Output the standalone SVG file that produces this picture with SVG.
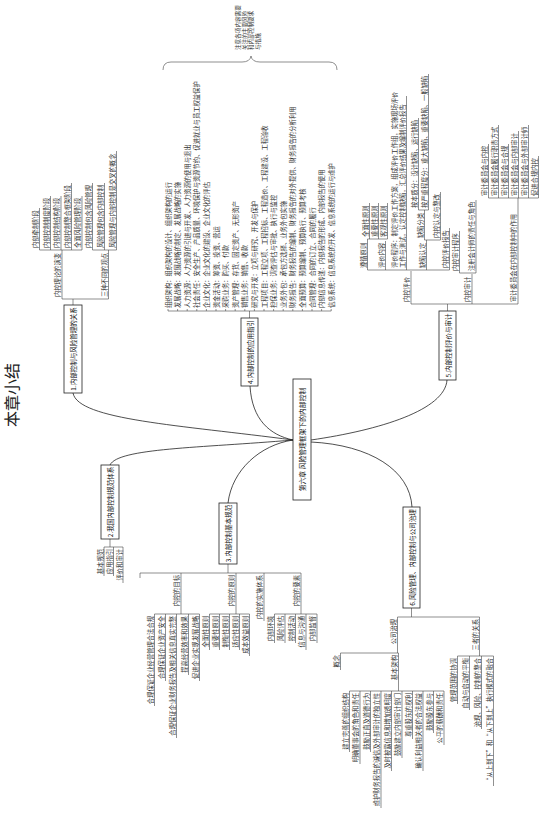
<svg xmlns="http://www.w3.org/2000/svg" width="543" height="819" viewBox="0 0 543 819">
<style>
.t{font-family:"Noto Sans CJK SC","Noto Sans",sans-serif;font-size:6.3px;fill:#333;dominant-baseline:central}
.s{text-anchor:start}.e{text-anchor:end}.m{text-anchor:middle}
.nb{font-size:6.5px;fill:#111}
.box{fill:#fff;stroke:#222;stroke-width:0.8}
.ln{stroke:#444;stroke-width:0.6;fill:none}
.cv{stroke:#222;stroke-width:0.8;fill:none}
</style>
<rect width="543" height="819" fill="#fff"/>
<text class="t m" style="font-size:16px;fill:#222" transform="translate(11,395) rotate(-90)">本章小结</text>

<g id="connectors">
<path class="cv" d="M73,393 C78,420 180,425 293,440 M110,465 C118,448 200,448 293,440 M228,503 C232,470 260,445 293,440 M250,386 C252,420 270,435 293,440 M447,380 C445,410 380,430 311,440 M412,507 C410,470 370,445 311,442"/>
<path class="ln" d="M73,305V299 M62,299H108.5 M62,299V250 M108.5,299V250 M39.5,250H82 M39.5,250V208 M50.5,250V196 M61,250V196 M71.5,250V183 M82,250V196 M92.5,250H116.5 M92.5,250V183 M104.5,250V183 M116.5,250V151"/>
<path class="ln" d="M110,539V547 M104,547H123 M104,547V576 M113.5,547V576 M123,547V583"/>
<path class="ln" d="M228,564V573 M140,573H301 M140,573V578 M181,573V614 M154.5,614H199.5 M154.5,614V706 M165.5,614V681 M176.5,614V738 M188.5,614V675 M199.5,614V681 M236,573V614 M209.5,614H249.5 M209.5,614V650 M219.5,614V650 M229.5,614V650 M239.5,614V650 M249.5,614V656 M264,573V621 M301,573V614 M274.5,614H317 M274.5,614V643 M285,614V643 M295.5,614V643 M306,614V650 M317,614V643"/>
<path class="ln" d="M249.5,318V311 M168,311H331.2 M168,311V309 M177.6,311V309 M187.2,311V309 M196.8,311V309 M206.4,311V309 M216,311V309 M225.6,311V309 M235.2,311V309 M244.8,311V309 M254.4,311V309 M264,311V309 M273.6,311V309 M283.2,311V309 M292.8,311V309 M302.4,311V309 M312,311V309 M321.6,311V309 M331.2,311V309"/>
<path class="ln" d="M163,70 Q163,62 171,62 L242,62 Q250,62 251,56 Q252,62 260,62 L329,62 Q337,62 337,70"/>
<path class="ln" d="M447.5,311V304 M411,304H518 M411,304V271 M472,304V274 M518,304V198 M367.5,270H449.5 M367.5,270V239 M367.5,239H387.5 M369.5,239V203 M378.5,239V203 M387.5,239V203 M385.5,270V241 M406.5,270V96 M426.5,270V240 M424.5,240H440.5 M424.5,240V210 M418.5,210H428.5 M418.5,210V118 M428.5,210V74 M440.5,240V192 M449.5,270V228 M459.5,273H476 M459.5,273V231 M476,273V200 M488.5,198H538.5 M488.5,198V144 M498.5,198V125 M508.5,198V144 M518.5,198V131 M528.5,198V125 M538.5,198V156"/>
<path class="ln" d="M411.5,608V617 M397.5,617H479.5 M397.5,617V653 M340.5,653H398.5 M340.5,653V670 M398.5,653V691 M349.5,691H444 M349.5,691V752 M360,691V764 M370.5,691V752 M381,691V808 M391.5,691V771 M402,691V758 M412.5,691V739 M423,691V771 M433.5,691V733 M444,691V745 M479.5,617V656 M457.5,656H493.5 M457.5,656V704 M469.5,656V710 M481.5,656V729 M493.5,656V786"/>
</g>

<g id="center">
<rect class="box" x="293" y="379" width="18" height="121"/>
<text class="t m nb" style="font-size:6.8px" transform="translate(302,439.5) rotate(-90)">第六章 风险管理框架下的内部控制</text>
</g>

<g id="node1">
<rect class="box" x="64" y="305" width="18" height="88"/>
<text class="t m nb" transform="translate(73,349) rotate(-90)">1.内部控制与风险管理的关系</text>
<text class="t s" transform="translate(57.5,297) rotate(-90)">内控理论的演变</text>
<text class="t s" transform="translate(35,248) rotate(-90)">内部牵制阶段</text>
<text class="t s" transform="translate(46,248) rotate(-90)">内部控制制度阶段</text>
<text class="t s" transform="translate(56.5,248) rotate(-90)">内部控制结构阶段</text>
<text class="t s" transform="translate(67,248) rotate(-90)">内部控制整合框架阶段</text>
<text class="t s" transform="translate(77.5,248) rotate(-90)">全面风险管理阶段</text>
<text class="t s" transform="translate(104,297) rotate(-90)">三种不同的观点</text>
<text class="t s" transform="translate(88,248) rotate(-90)">内部控制包含风险管理</text>
<text class="t s" transform="translate(100,248) rotate(-90)">风险管理包含内部控制</text>
<text class="t s" transform="translate(112,248) rotate(-90)">风险管理与内部控制是交叉的概念</text>
</g>

<g id="node2">
<rect class="box" x="101" y="465" width="18" height="74"/>
<text class="t m nb" transform="translate(110,502) rotate(-90)">2.我国内部控制规范体系</text>
<text class="t e" transform="translate(100,549) rotate(-90)">基本规范</text>
<text class="t e" transform="translate(109.5,549) rotate(-90)">应用指引</text>
<text class="t e" transform="translate(119,549) rotate(-90)">评价和审计</text>
</g>

<g id="node3">
<rect class="box" x="219" y="503" width="18" height="61"/>
<text class="t m nb" transform="translate(228,533.5) rotate(-90)">3.内部控制基本规范</text>
<text class="t e" transform="translate(176.5,575) rotate(-90)">内控的目标</text>
<text class="t e" transform="translate(150,616) rotate(-90)">合理保证企业经营管理合法合规</text>
<text class="t e" transform="translate(161,616) rotate(-90)">合理保证企业资产安全</text>
<text class="t e" transform="translate(172,616) rotate(-90)">合理保证企业财务报告及相关信息真实完整</text>
<text class="t e" transform="translate(184,616) rotate(-90)">提高经营效率和效果</text>
<text class="t e" transform="translate(195,616) rotate(-90)">促进企业实现发展战略</text>
<text class="t e" transform="translate(231.5,575) rotate(-90)">内控的原则</text>
<text class="t e" transform="translate(205,616) rotate(-90)">全面性原则</text>
<text class="t e" transform="translate(215,616) rotate(-90)">重要性原则</text>
<text class="t e" transform="translate(225,616) rotate(-90)">制衡性原则</text>
<text class="t e" transform="translate(235,616) rotate(-90)">适应性原则</text>
<text class="t e" transform="translate(245,616) rotate(-90)">成本效益原则</text>
<text class="t e" transform="translate(259.5,575) rotate(-90)">内控的实施体系</text>
<text class="t e" transform="translate(296.5,575) rotate(-90)">内控的要素</text>
<text class="t e" transform="translate(270,616) rotate(-90)">内部环境</text>
<text class="t e" transform="translate(280.5,616) rotate(-90)">风险评估</text>
<text class="t e" transform="translate(291,616) rotate(-90)">控制活动</text>
<text class="t e" transform="translate(301.5,616) rotate(-90)">信息与沟通</text>
<text class="t e" transform="translate(312.5,616) rotate(-90)">内部监督</text>
</g>

<g id="node4">
<rect class="box" x="241" y="318" width="17" height="68"/>
<text class="t m nb" transform="translate(249.5,352) rotate(-90)">4.内部控制的应用指引</text>
<text class="t s" transform="translate(168,308) rotate(-90)">组织架构：组织架构的设计、组织架构的运行</text>
<text class="t s" transform="translate(177.6,308) rotate(-90)">发展战略：发展战略的制定、发展战略的实施</text>
<text class="t s" transform="translate(187.2,308) rotate(-90)">人力资源：人力资源的引进与开发、人力资源的使用与退出</text>
<text class="t s" transform="translate(196.8,308) rotate(-90)">社会责任：安全生产、产品质量、环境保护与资源节约、促进就业与员工权益保护</text>
<text class="t s" transform="translate(206.4,308) rotate(-90)">企业文化：企业文化的建设、企业文化的评估</text>
<text class="t s" transform="translate(216,308) rotate(-90)">资金活动：筹资、投资、营运</text>
<text class="t s" transform="translate(225.6,308) rotate(-90)">采购业务：购买、付款</text>
<text class="t s" transform="translate(235.2,308) rotate(-90)">资产管理：存货、固定资产、无形资产</text>
<text class="t s" transform="translate(244.8,308) rotate(-90)">销售业务：销售、收款</text>
<text class="t s" transform="translate(254.4,308) rotate(-90)">研究与开发：立项与研究、开发与保护</text>
<text class="t s" transform="translate(264,308) rotate(-90)">工程项目：工程立项、工程招标、工程造价、工程建设、工程验收</text>
<text class="t s" transform="translate(273.6,308) rotate(-90)">担保业务：调查评估与审批、执行与监控</text>
<text class="t s" transform="translate(283.2,308) rotate(-90)">业务外包：承包方选择、业务外包实施</text>
<text class="t s" transform="translate(292.8,308) rotate(-90)">财务报告：财务报告的编制、财务报告的对外提供、财务报告的分析利用</text>
<text class="t s" transform="translate(302.4,308) rotate(-90)">全面预算：预算编制、预算执行、预算考核</text>
<text class="t s" transform="translate(312,308) rotate(-90)">合同管理：合同的订立、合同的履行</text>
<text class="t s" transform="translate(321.6,308) rotate(-90)">内部信息传递：内部报告的形成、内部报告的使用</text>
<text class="t s" transform="translate(331.2,308) rotate(-90)">信息系统：信息系统的开发、信息系统的运行与维护</text>
<text class="t s" style="font-size:5.6px" transform="translate(238,50) rotate(-90)"><tspan x="0" y="0">注意各项内容需要</tspan><tspan x="0" dy="6.5">关注的主要风险</tspan><tspan x="0" dy="6.5">和内部控制要求</tspan><tspan x="0" dy="6.5">与措施</tspan></text>
</g>

<g id="node5">
<rect class="box" x="439" y="311" width="17" height="69"/>
<text class="t m nb" transform="translate(447.5,345.5) rotate(-90)">5.内部控制评价与审计</text>
<text class="t s" transform="translate(406.5,302) rotate(-90)">内控评价</text>
<text class="t s" transform="translate(363,268) rotate(-90)">遵循原则</text>
<text class="t s" transform="translate(365,237) rotate(-90)">全面性原则</text>
<text class="t s" transform="translate(374,237) rotate(-90)">重要性原则</text>
<text class="t s" transform="translate(383,237) rotate(-90)">客观性原则</text>
<text class="t s" transform="translate(381,268) rotate(-90)">评价内容</text>
<text class="t s" transform="translate(394,268) rotate(-90)"><tspan x="0" y="0">评价程序：制定评价工作方案，组成评价工作组，实施现场评价</tspan><tspan x="0" dy="7.5">工作与测试，认定控制缺陷，汇总评价结果及编制评价报告</tspan></text>
<text class="t s" transform="translate(422,268) rotate(-90)">缺陷认定</text>
<text class="t s" transform="translate(420,238) rotate(-90)">缺陷分类</text>
<text class="t s" transform="translate(414,208) rotate(-90)">按本质分：设计缺陷、运行缺陷</text>
<text class="t s" transform="translate(424,208) rotate(-90)">按严重程度分：重大缺陷、重要缺陷、一般缺陷</text>
<text class="t s" transform="translate(436,238) rotate(-90)">内控认定与整改</text>
<text class="t s" transform="translate(445,268) rotate(-90)">内控评价报告</text>
<text class="t s" transform="translate(467.5,302) rotate(-90)">内控审计</text>
<text class="t s" transform="translate(455,271) rotate(-90)">内控审计程序</text>
<text class="t s" transform="translate(471.5,271) rotate(-90)">注册会计师的责任与角色</text>
<text class="t s" transform="translate(513.5,302) rotate(-90)">审计委员会在内部控制中的作用</text>
<text class="t s" transform="translate(484,196) rotate(-90)">审计委员会与内控</text>
<text class="t s" transform="translate(494,196) rotate(-90)">审计委员会履行职责方式</text>
<text class="t s" transform="translate(504,196) rotate(-90)">审计委员会与合规</text>
<text class="t s" transform="translate(514,196) rotate(-90)">审计委员会与内部审计</text>
<text class="t s" transform="translate(524,196) rotate(-90)">审计委员会与外部审计师</text>
<text class="t s" transform="translate(534,196) rotate(-90)">促进合规内控</text>
</g>

<g id="node6">
<rect class="box" x="403" y="507" width="17" height="101"/>
<text class="t m nb" transform="translate(411.5,557.5) rotate(-90)">6.风险管理、内部控制与公司治理</text>
<text class="t e" transform="translate(393,619) rotate(-90)">公司治理</text>
<text class="t e" transform="translate(336,655) rotate(-90)">概念</text>
<text class="t e" transform="translate(394,655) rotate(-90)">基本架构</text>
<text class="t e" transform="translate(345,693) rotate(-90)">建立完善的组织结构</text>
<text class="t e" transform="translate(355.5,693) rotate(-90)">明确董事会的角色和责任</text>
<text class="t e" transform="translate(366,693) rotate(-90)">鼓励正直及道德行为</text>
<text class="t e" transform="translate(376.5,693) rotate(-90)">维护财务报告的诚信及外部审计的独立性</text>
<text class="t e" transform="translate(387,693) rotate(-90)">及时披露信息和增加透明度</text>
<text class="t e" transform="translate(397.5,693) rotate(-90)">鼓励建立内部审计部门</text>
<text class="t e" transform="translate(408,693) rotate(-90)">尊重股东的权利</text>
<text class="t e" transform="translate(418.5,693) rotate(-90)">确认利益相关者的合法权益</text>
<text class="t e" transform="translate(429,693) rotate(-90)">鼓励股东参与</text>
<text class="t e" transform="translate(439.5,693) rotate(-90)">公平的薪酬和责任</text>
<text class="t e" transform="translate(475,619) rotate(-90)">三者的关系</text>
<text class="t e" transform="translate(453,658) rotate(-90)">管理范围的协调</text>
<text class="t e" transform="translate(465,658) rotate(-90)">自动与启动的平衡</text>
<text class="t e" transform="translate(477,658) rotate(-90)">治理、风险、控制的整合</text>
<text class="t e" transform="translate(489,658) rotate(-90)">“从上到下”和“从下到上”执行模式的融合</text>
</g>
</svg>
